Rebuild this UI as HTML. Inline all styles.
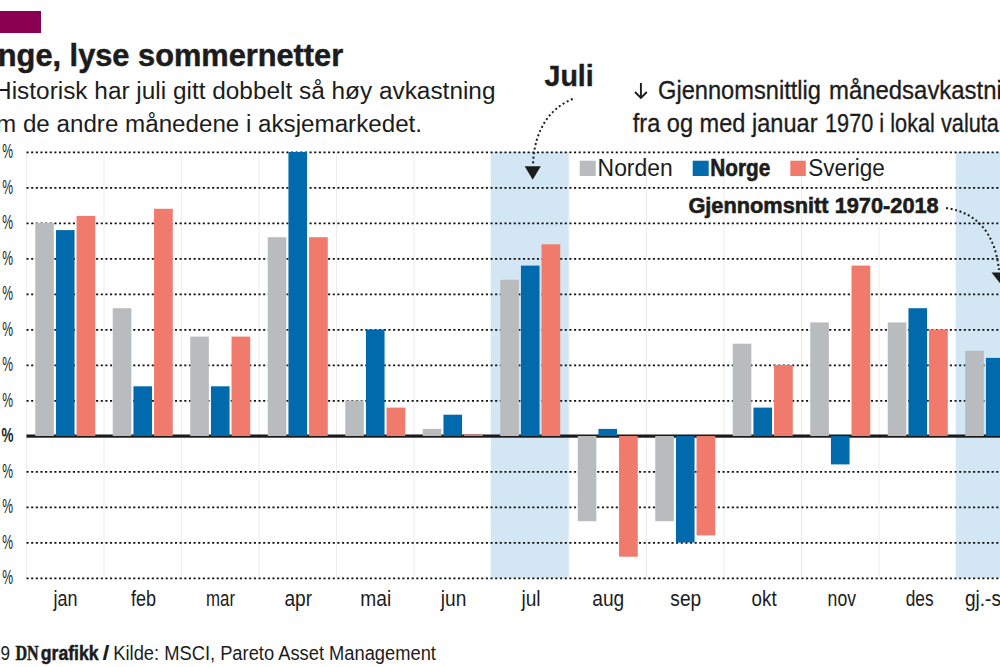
<!DOCTYPE html>
<html><head><meta charset="utf-8">
<style>
html,body{margin:0;padding:0;background:#fff;width:1000px;height:667px;overflow:hidden}
svg{display:block}
text{font-family:"Liberation Sans",sans-serif;fill:#1c1c1c}
.b{font-weight:bold}
</style></head><body>
<svg width="1000" height="667" viewBox="0 0 1000 667">
<rect x="0" y="0" width="1000" height="667" fill="#fff"/>
<rect x="0" y="11" width="41" height="22" fill="#8b0050"/>
<line x1="26.5" y1="152" x2="26.5" y2="578" stroke="#ececec" stroke-width="1"/>
<line x1="104.0" y1="152" x2="104.0" y2="578" stroke="#ececec" stroke-width="1"/>
<line x1="181.5" y1="152" x2="181.5" y2="578" stroke="#ececec" stroke-width="1"/>
<line x1="259.0" y1="152" x2="259.0" y2="578" stroke="#ececec" stroke-width="1"/>
<line x1="336.5" y1="152" x2="336.5" y2="578" stroke="#ececec" stroke-width="1"/>
<line x1="414.0" y1="152" x2="414.0" y2="578" stroke="#ececec" stroke-width="1"/>
<line x1="491.5" y1="152" x2="491.5" y2="578" stroke="#ececec" stroke-width="1"/>
<line x1="569.0" y1="152" x2="569.0" y2="578" stroke="#ececec" stroke-width="1"/>
<line x1="646.5" y1="152" x2="646.5" y2="578" stroke="#ececec" stroke-width="1"/>
<line x1="724.0" y1="152" x2="724.0" y2="578" stroke="#ececec" stroke-width="1"/>
<line x1="801.5" y1="152" x2="801.5" y2="578" stroke="#ececec" stroke-width="1"/>
<line x1="879.0" y1="152" x2="879.0" y2="578" stroke="#ececec" stroke-width="1"/>
<line x1="956.5" y1="152" x2="956.5" y2="578" stroke="#ececec" stroke-width="1"/>
<rect x="490.7" y="152" width="77.8" height="426" fill="#d3e6f3"/>
<rect x="955.7" y="152" width="77.8" height="426" fill="#d3e6f3"/>
<line x1="26.5" y1="152.3" x2="1000" y2="152.3" stroke="#111" stroke-width="1.8" stroke-dasharray="2.1 2.54"/>
<line x1="26.5" y1="187.8" x2="1000" y2="187.8" stroke="#111" stroke-width="1.8" stroke-dasharray="2.1 2.54"/>
<line x1="26.5" y1="223.3" x2="1000" y2="223.3" stroke="#111" stroke-width="1.8" stroke-dasharray="2.1 2.54"/>
<line x1="26.5" y1="258.8" x2="1000" y2="258.8" stroke="#111" stroke-width="1.8" stroke-dasharray="2.1 2.54"/>
<line x1="26.5" y1="294.3" x2="1000" y2="294.3" stroke="#111" stroke-width="1.8" stroke-dasharray="2.1 2.54"/>
<line x1="26.5" y1="329.8" x2="1000" y2="329.8" stroke="#111" stroke-width="1.8" stroke-dasharray="2.1 2.54"/>
<line x1="26.5" y1="365.3" x2="1000" y2="365.3" stroke="#111" stroke-width="1.8" stroke-dasharray="2.1 2.54"/>
<line x1="26.5" y1="400.8" x2="1000" y2="400.8" stroke="#111" stroke-width="1.8" stroke-dasharray="2.1 2.54"/>
<line x1="26.5" y1="471.8" x2="1000" y2="471.8" stroke="#111" stroke-width="1.8" stroke-dasharray="2.1 2.54"/>
<line x1="26.5" y1="507.3" x2="1000" y2="507.3" stroke="#111" stroke-width="1.8" stroke-dasharray="2.1 2.54"/>
<line x1="26.5" y1="542.8" x2="1000" y2="542.8" stroke="#111" stroke-width="1.8" stroke-dasharray="2.1 2.54"/>
<line x1="26.5" y1="578.3" x2="1000" y2="578.3" stroke="#111" stroke-width="1.8" stroke-dasharray="2.1 2.54"/>
<rect x="26.5" y="434.5" width="973.5" height="3.2" fill="#1a1a1a"/>
<rect x="35.25" y="223.00" width="18.6" height="213.00" fill="#b9bcbf"/>
<rect x="55.95" y="230.10" width="18.6" height="205.90" fill="#006aad"/>
<rect x="76.55" y="215.90" width="18.7" height="220.10" fill="#f07a6c"/>
<rect x="112.75" y="308.20" width="18.6" height="127.80" fill="#b9bcbf"/>
<rect x="133.45" y="386.30" width="18.6" height="49.70" fill="#006aad"/>
<rect x="154.05" y="208.80" width="18.7" height="227.20" fill="#f07a6c"/>
<rect x="190.25" y="336.60" width="18.6" height="99.40" fill="#b9bcbf"/>
<rect x="210.95" y="386.30" width="18.6" height="49.70" fill="#006aad"/>
<rect x="231.55" y="336.60" width="18.7" height="99.40" fill="#f07a6c"/>
<rect x="267.75" y="237.20" width="18.6" height="198.80" fill="#b9bcbf"/>
<rect x="288.45" y="152.00" width="18.6" height="284.00" fill="#006aad"/>
<rect x="309.05" y="237.20" width="18.7" height="198.80" fill="#f07a6c"/>
<rect x="345.25" y="400.50" width="18.6" height="35.50" fill="#b9bcbf"/>
<rect x="365.95" y="329.50" width="18.6" height="106.50" fill="#006aad"/>
<rect x="386.55" y="407.60" width="18.7" height="28.40" fill="#f07a6c"/>
<rect x="422.75" y="428.90" width="18.6" height="7.10" fill="#b9bcbf"/>
<rect x="443.45" y="414.70" width="18.6" height="21.30" fill="#006aad"/>
<rect x="464.05" y="434.58" width="18.7" height="1.42" fill="#f07a6c"/>
<rect x="500.25" y="279.80" width="18.6" height="156.20" fill="#b9bcbf"/>
<rect x="520.95" y="265.60" width="18.6" height="170.40" fill="#006aad"/>
<rect x="541.55" y="244.30" width="18.7" height="191.70" fill="#f07a6c"/>
<rect x="577.75" y="436.00" width="18.6" height="85.20" fill="#b9bcbf"/>
<rect x="598.45" y="428.90" width="18.6" height="7.10" fill="#006aad"/>
<rect x="619.05" y="436.00" width="18.7" height="120.70" fill="#f07a6c"/>
<rect x="655.25" y="436.00" width="18.6" height="85.20" fill="#b9bcbf"/>
<rect x="675.95" y="436.00" width="18.6" height="106.50" fill="#006aad"/>
<rect x="696.55" y="436.00" width="18.7" height="99.40" fill="#f07a6c"/>
<rect x="732.75" y="343.70" width="18.6" height="92.30" fill="#b9bcbf"/>
<rect x="753.45" y="407.60" width="18.6" height="28.40" fill="#006aad"/>
<rect x="774.05" y="365.00" width="18.7" height="71.00" fill="#f07a6c"/>
<rect x="810.25" y="322.40" width="18.6" height="113.60" fill="#b9bcbf"/>
<rect x="830.95" y="436.00" width="18.6" height="28.40" fill="#006aad"/>
<rect x="851.55" y="265.60" width="18.7" height="170.40" fill="#f07a6c"/>
<rect x="887.75" y="322.40" width="18.6" height="113.60" fill="#b9bcbf"/>
<rect x="908.45" y="308.20" width="18.6" height="127.80" fill="#006aad"/>
<rect x="929.05" y="329.50" width="18.7" height="106.50" fill="#f07a6c"/>
<rect x="965.25" y="350.80" width="18.6" height="85.20" fill="#b9bcbf"/>
<rect x="985.95" y="357.90" width="18.6" height="78.10" fill="#006aad"/>
<rect x="1006.55" y="343.70" width="18.7" height="92.30" fill="#f07a6c"/>
<rect x="579.7" y="160.7" width="16" height="15.3" fill="#b9bcbf"/>
<rect x="692.7" y="160.7" width="16" height="15.3" fill="#006aad"/>
<rect x="790.3" y="160.7" width="15.5" height="15.3" fill="#f07a6c"/>
<path d="M572.7 99 C552 107 534 128 533 165" fill="none" stroke="#1c1c1c" stroke-width="2" stroke-dasharray="2 2.6"/>
<path d="M524.7 166.2 L540.8 166.2 L532.7 179.7 Z" fill="#1c1c1c"/>
<path d="M946 208 Q993 215 999 270" fill="none" stroke="#1c1c1c" stroke-width="2" stroke-dasharray="2 2.6"/>
<path d="M991.5 272.5 L1015 272.5 L1003 287 Z" fill="#1c1c1c"/>
<text class="b" x="-2.18" y="65.5" font-size="31" textLength="345.35" lengthAdjust="spacingAndGlyphs" stroke="#1c1c1c" stroke-width="0.5">nge, lyse sommernetter</text>
<text x="-5.91" y="99" font-size="23" textLength="501.4" lengthAdjust="spacingAndGlyphs">Historisk har juli gitt dobbelt så høy avkastning</text>
<text x="-29.48" y="132.4" font-size="23" textLength="451.47" lengthAdjust="spacingAndGlyphs">som de andre månedene i aksjemarkedet.</text>
<text class="b" x="544.5" y="86.3" font-size="29" textLength="49.21" lengthAdjust="spacingAndGlyphs" stroke="#1c1c1c" stroke-width="0.4">Juli</text>
<text x="658.0" y="99.4" font-size="25" textLength="163.0" lengthAdjust="spacingAndGlyphs" stroke="#1c1c1c" stroke-width="0.3">Gjennomsnittlig</text>
<text x="829.0" y="99.4" font-size="25" textLength="199.42" lengthAdjust="spacingAndGlyphs" stroke="#1c1c1c" stroke-width="0.3">månedsavkastning</text>
<text x="632.8" y="132.4" font-size="25" textLength="184.72" lengthAdjust="spacingAndGlyphs" stroke="#1c1c1c" stroke-width="0.3">fra og med januar</text>
<text x="825.0" y="132.4" font-size="25" textLength="173.92" lengthAdjust="spacingAndGlyphs" stroke="#1c1c1c" stroke-width="0.3">1970 i lokal valuta</text>
<text x="597.6" y="176" font-size="23" textLength="75.09" lengthAdjust="spacingAndGlyphs">Norden</text>
<text class="b" x="710.3" y="176" font-size="23" textLength="59.89" lengthAdjust="spacingAndGlyphs" stroke="#1c1c1c" stroke-width="0.6">Norge</text>
<text x="808.3" y="176" font-size="23" textLength="76.49" lengthAdjust="spacingAndGlyphs">Sverige</text>
<text class="b" x="688.4" y="213.1" font-size="22" textLength="250.34" lengthAdjust="spacingAndGlyphs" stroke="#1c1c1c" stroke-width="0.6">Gjennomsnitt 1970-2018</text>
<text x="53.49" y="605.6" font-size="22" textLength="23.94" lengthAdjust="spacingAndGlyphs">jan</text>
<text x="131.0" y="605.6" font-size="22" textLength="25.03" lengthAdjust="spacingAndGlyphs">feb</text>
<text x="206.0" y="605.6" font-size="22" textLength="29.02" lengthAdjust="spacingAndGlyphs">mar</text>
<text x="284.43" y="605.6" font-size="22" textLength="27.66" lengthAdjust="spacingAndGlyphs">apr</text>
<text x="360.32" y="605.6" font-size="22" textLength="30.84" lengthAdjust="spacingAndGlyphs">mai</text>
<text x="440.76" y="605.6" font-size="22" textLength="25.54" lengthAdjust="spacingAndGlyphs">jun</text>
<text x="521.43" y="605.6" font-size="22" textLength="19.15" lengthAdjust="spacingAndGlyphs">jul</text>
<text x="592.3" y="605.6" font-size="22" textLength="31.94" lengthAdjust="spacingAndGlyphs">aug</text>
<text x="670.34" y="605.6" font-size="22" textLength="30.86" lengthAdjust="spacingAndGlyphs">sep</text>
<text x="751.6" y="605.6" font-size="22" textLength="25.01" lengthAdjust="spacingAndGlyphs">okt</text>
<text x="827.6" y="605.6" font-size="22" textLength="28.4" lengthAdjust="spacingAndGlyphs">nov</text>
<text x="905.7" y="605.6" font-size="22" textLength="27.9" lengthAdjust="spacingAndGlyphs">des</text>
<text x="964.91" y="605.6" font-size="22" textLength="61.69" lengthAdjust="spacingAndGlyphs">gj.-snitt</text>
<text x="2.2" y="158.3" font-size="20" textLength="10.79" lengthAdjust="spacingAndGlyphs">%</text>
<text x="2.2" y="193.8" font-size="20" textLength="10.79" lengthAdjust="spacingAndGlyphs">%</text>
<text x="2.2" y="229.3" font-size="20" textLength="10.79" lengthAdjust="spacingAndGlyphs">%</text>
<text x="2.2" y="264.8" font-size="20" textLength="10.79" lengthAdjust="spacingAndGlyphs">%</text>
<text x="2.2" y="300.3" font-size="20" textLength="10.79" lengthAdjust="spacingAndGlyphs">%</text>
<text x="2.2" y="335.8" font-size="20" textLength="10.79" lengthAdjust="spacingAndGlyphs">%</text>
<text x="2.2" y="371.3" font-size="20" textLength="10.79" lengthAdjust="spacingAndGlyphs">%</text>
<text x="2.2" y="406.8" font-size="20" textLength="10.79" lengthAdjust="spacingAndGlyphs">%</text>
<text class="b" x="1.5" y="442.3" font-size="20" textLength="11.99" lengthAdjust="spacingAndGlyphs">%</text>
<text x="2.2" y="477.8" font-size="20" textLength="10.79" lengthAdjust="spacingAndGlyphs">%</text>
<text x="2.2" y="513.3" font-size="20" textLength="10.79" lengthAdjust="spacingAndGlyphs">%</text>
<text x="2.2" y="548.8" font-size="20" textLength="10.79" lengthAdjust="spacingAndGlyphs">%</text>
<text x="2.2" y="584.3" font-size="20" textLength="10.79" lengthAdjust="spacingAndGlyphs">%</text>
<path d="M640.9 83 V97.5" stroke="#1c1c1c" stroke-width="1.9" fill="none"/>
<path d="M635 92 L640.9 98 L646.8 92" stroke="#1c1c1c" stroke-width="1.9" fill="none"/>
<text x="0.5" y="660" font-size="20" textLength="9.52" lengthAdjust="spacingAndGlyphs">9</text>
<text class="b" style="font-family:Liberation Serif" x="15.5" y="660" font-size="21" textLength="23.22" lengthAdjust="spacingAndGlyphs" font-family="Liberation Serif" stroke="#1c1c1c" stroke-width="0.5">DN</text>
<text class="b" x="40.75" y="660" font-size="20" textLength="57.93" lengthAdjust="spacingAndGlyphs" stroke="#1c1c1c" stroke-width="0.5">grafikk</text>
<text class="b" x="102.5" y="660" font-size="20" textLength="6.95" lengthAdjust="spacingAndGlyphs">/</text>
<text x="113.3" y="660" font-size="20" textLength="322.66" lengthAdjust="spacingAndGlyphs">Kilde: MSCI, Pareto Asset Management</text>
</svg>
</body></html>
